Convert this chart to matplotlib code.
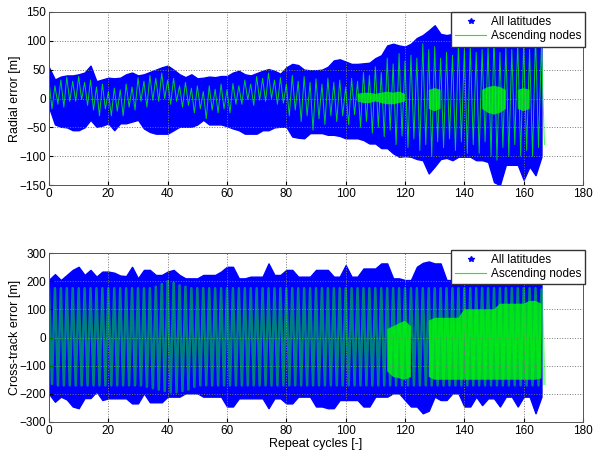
import matplotlib.pyplot as plt
import numpy as np
from matplotlib.lines import Line2D

plt.rcParams['font.family'] = ['Liberation Sans', 'DejaVu Sans']

# repeat cycle grid (every 2 cycles)
cycles = np.arange(0, 168, 2)

# radial error: envelope of all-latitude points [m]
rad_all_hi = [54, 33, 38, 40, 40, 42, 45, 57, 30, 33, 36, 35, 36, 42, 45, 40,
              42, 46, 50, 54, 57, 50, 42, 37, 42, 35, 36, 38, 37, 39, 39, 45,
              48, 42, 40, 44, 48, 51, 48, 43, 54, 60, 58, 50, 49, 49, 50, 55,
              66, 68, 64, 60, 60, 61, 62, 70, 75, 92, 95, 92, 90, 95, 105, 110,
              118, 127, 112, 110, 112, 105, 104, 100, 95, 93, 95, 100, 98, 95, 100, 102,
              100, 105, 108, 100]
rad_all_lo = [-15, -45, -49, -50, -55, -55, -50, -37, -49, -47, -43, -55, -43, -43, -40, -37,
              -52, -58, -61, -61, -61, -55, -49, -49, -49, -45, -37, -45, -45, -45, -48, -52,
              -55, -61, -61, -61, -55, -55, -50, -49, -49, -66, -68, -69, -60, -60, -60, -63,
              -63, -65, -69, -69, -69, -72, -78, -78, -86, -86, -95, -101, -100, -101, -105, -107,
              -130, -118, -105, -103, -107, -101, -101, -101, -107, -107, -110, -145, -150, -115, -115, -115,
              -141, -118, -133, -101]

# radial error: ascending node swing (peak / trough per 2 cycles) [m]
rad_asc_hi = [30, 22, 32, 37, 30, 38, 28, 32, 20, 25, 12, 18, 15, 25, 20, 36,
              30, 40, 35, 44, 32, 35, 22, 28, 18, 22, 12, 22, 16, 25, 15, 26,
              22, 32, 25, 38, 35, 44, 32, 36, 25, 40, 30, 38, 28, 34, 25, 35,
              28, 32, 20, 35, 30, 45, 40, 55, 45, 70, 60, 78, 65, 75, 70, 95,
              85, 90, 70, 80, 75, 95, 85, 90, 80, 85, 90, 110, 80, 90, 85, 100,
              95, 85, 110, 95]
rad_asc_lo = [-18, -10, -15, -5, -5, -2, -12, -20, -30, -18, -30, -22, -30, -15, -20, -5,
              -15, -3, -5, 0, -10, -5, -15, -12, -25, -18, -35, -20, -25, -18, -25, -10,
              -10, -2, -12, -3, -5, 0, -10, -8, -30, -20, -40, -30, -55, -35, -45, -30,
              -40, -30, -45, -28, -50, -40, -60, -50, -66, -55, -80, -65, -85, -70, -90, -80,
              -100, -75, -85, -70, -90, -75, -95, -80, -95, -75, -100, -107, -85, -100, -80, -100,
              -90, -100, -85, -80]

# radial error: bright ascending node clusters [m]
rad_core_x = np.arange(100, 168, 2)
rad_core_hi = [np.nan, np.nan, 8, 10, 10, 8, 10, 12, 10, 12, 8, np.nan, np.nan, np.nan, 15, 18,
               15, np.nan, np.nan, np.nan, np.nan, np.nan, np.nan, 15, 20, 22, 20, 15, np.nan, 15, 18, 15,
               np.nan, np.nan]
rad_core_lo = [np.nan, np.nan, -5, -8, -8, -5, -8, -10, -10, -8, -5, np.nan, np.nan, np.nan, -18, -22,
               -18, np.nan, np.nan, np.nan, np.nan, np.nan, np.nan, -18, -25, -28, -25, -18, np.nan, -18, -22, -18,
               np.nan, np.nan]

# cross-track error: envelope of all-latitude points [m]
ct_all_hi = [205, 225, 204, 222, 240, 251, 222, 240, 216, 234, 234, 230, 220, 218, 251, 210,
             240, 240, 222, 222, 234, 240, 222, 210, 210, 210, 222, 222, 222, 234, 251, 251,
             210, 210, 216, 216, 216, 263, 222, 222, 240, 240, 216, 216, 216, 240, 240, 240,
             216, 216, 257, 216, 216, 245, 245, 245, 263, 263, 210, 210, 204, 204, 251, 265,
             270, 263, 263, 204, 204, 205, 200, 210, 200, 205, 200, 210, 205, 200, 205, 200,
             210, 205, 200, 195]
ct_all_lo = [-200, -228, -210, -220, -245, -251, -215, -215, -192, -222, -216, -216, -216, -216, -234, -234,
             -198, -230, -230, -230, -210, -210, -210, -198, -198, -198, -210, -210, -210, -210, -245, -245,
             -216, -216, -216, -216, -216, -251, -216, -216, -234, -234, -210, -210, -210, -245, -245, -251,
             -251, -222, -222, -222, -222, -245, -245, -210, -210, -210, -198, -198, -222, -245, -245, -269,
             -260, -210, -222, -222, -198, -198, -245, -245, -210, -240, -216, -216, -245, -210, -210, -245,
             -210, -210, -269, -210]

# cross-track error: ascending node swing [m]
ct_asc_hi = [170, 175, 175, 175, 175, 175, 175, 175, 175, 175, 175, 175, 175, 175, 175, 175,
             175, 175, 180, 190, 200, 195, 185, 180, 175, 175, 175, 175, 175, 175, 175, 175,
             175, 175, 175, 175, 175, 175, 175, 175, 175, 175, 175, 175, 175, 175, 175, 175,
             175, 175, 175, 175, 175, 175, 175, 175, 175, 175, 175, 175, 175, 175, 175, 175,
             175, 175, 175, 175, 175, 175, 175, 175, 175, 175, 175, 175, 175, 175, 175, 175,
             175, 175, 175, 170]
ct_asc_lo = [-165, -170, -170, -170, -170, -170, -170, -170, -170, -170, -170, -170, -170, -170, -170, -170,
             -175, -180, -185, -190, -195, -195, -190, -185, -175, -170, -170, -170, -170, -170, -170, -170,
             -170, -170, -170, -170, -170, -170, -170, -170, -170, -170, -170, -170, -170, -170, -170, -170,
             -170, -170, -170, -170, -170, -170, -170, -170, -170, -170, -170, -170, -170, -170, -170, -170,
             -170, -170, -170, -170, -170, -170, -170, -170, -170, -170, -170, -170, -170, -170, -170, -170,
             -170, -170, -170, -165]

# cross-track error: bright ascending node clusters (gap around 124-126) [m]
ct_core_x = np.arange(114, 168, 2)
ct_core_hi = [30, 40, 50, 60, 40, np.nan, np.nan, 60, 70, 70, 70, 70, 70, 100, 100,
              100, 100, 100, 100, 120, 120, 120, 120, 120, 130, 130, 120]
ct_core_lo = [-120, -140, -145, -150, -140, np.nan, np.nan, -140, -150, -150, -150, -150, -150, -150, -150,
              -150, -150, -150, -150, -150, -150, -150, -150, -150, -150, -150, -145]

BLUE = '#0000ff'
GREEN = '#00ff00'


def zigzag(x, hi, lo):
    # alternate peak and trough of each 2-cycle block
    xs = np.empty(2 * len(x))
    ys = np.empty(2 * len(x))
    xs[0::2] = x
    xs[1::2] = np.asarray(x) + 1
    ys[0::2] = hi
    ys[1::2] = lo
    return xs, ys


def draw_panel(ax, all_hi, all_lo, asc_hi, asc_lo, core_x, core_hi, core_lo, lw, alpha):
    ax.fill_between(cycles, all_lo, all_hi, color=BLUE, lw=1.0, edgecolor=BLUE)
    xs, ys = zigzag(cycles, asc_hi, asc_lo)
    ax.plot(xs, ys, color=GREEN, lw=lw, alpha=alpha)
    ax.fill_between(core_x, core_lo, core_hi, color=GREEN, lw=0, alpha=0.8)
    ax.set_xlim(0, 180)
    ax.set_xticks(np.arange(0, 181, 20))
    ax.grid(True, linestyle=':', color='#777777', lw=0.7)
    ax.tick_params(direction='in', labelsize=8.5, length=3, pad=2)
    for s in ax.spines.values():
        s.set_linewidth(0.7)
        s.set_color('#555555')
    ax.yaxis.set_label_coords(-0.053, 0.5)
    handles = [Line2D([], [], marker='*', ls='none', color=BLUE, ms=4),
               Line2D([], [], color=GREEN, lw=0.8)]
    return handles


fig = plt.figure(figsize=(5.94, 4.55), dpi=100)
ax1 = fig.add_axes([49 / 594, 1 - 185 / 455, 534 / 594, 173 / 455])
ax2 = fig.add_axes([49 / 594, 1 - 422 / 455, 534 / 594, 169 / 455])

legend_kw = dict(loc='upper right', borderaxespad=0, fontsize=8.5,
                 fancybox=False, framealpha=1, edgecolor='#333333',
                 handlelength=2.6, handletextpad=0.4, borderpad=0.35, labelspacing=0.2)

h = draw_panel(ax1, rad_all_hi, rad_all_lo, rad_asc_hi, rad_asc_lo,
               rad_core_x, rad_core_hi, rad_core_lo, lw=0.7, alpha=0.8)
ax1.set_ylim(-150, 150)
ax1.set_yticks(np.arange(-150, 151, 50))
ax1.set_ylabel('Radial error [m]', fontsize=9)
ax1.legend(h, ['All latitudes', 'Ascending nodes'], bbox_to_anchor=(1.004, 1.0), **legend_kw)

h = draw_panel(ax2, ct_all_hi, ct_all_lo, ct_asc_hi, ct_asc_lo,
               ct_core_x, ct_core_hi, ct_core_lo, lw=1.8, alpha=0.5)
ax2.set_ylim(-300, 300)
ax2.set_yticks(np.arange(-300, 301, 100))
ax2.set_ylabel('Cross-track error [m]', fontsize=9)
ax2.set_xlabel('Repeat cycles [-]', fontsize=9, labelpad=1)
ax2.legend(h, ['All latitudes', 'Ascending nodes'], bbox_to_anchor=(1.004, 1.02), **legend_kw)

fig.savefig('out.png', dpi=100)
